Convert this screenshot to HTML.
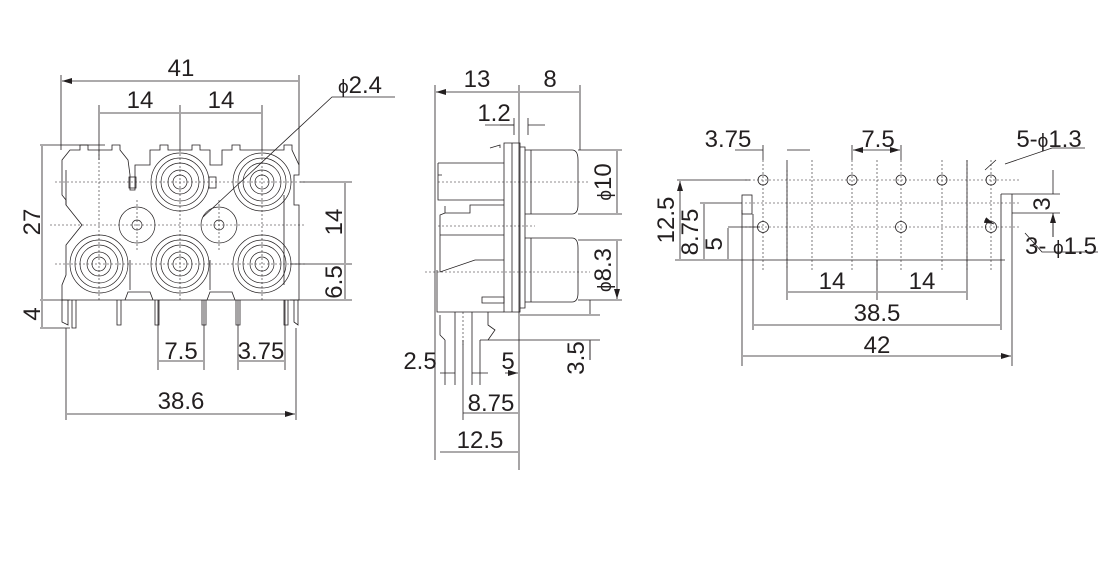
<!DOCTYPE html>
<html><head><meta charset="utf-8"><style>
html,body{margin:0;padding:0;background:#fff;}
svg{display:block}
text{font-family:"Liberation Sans",sans-serif;font-size:24px;fill:#231f20}
</style></head><body>
<svg width="1120" height="582" viewBox="0 0 1120 582" xmlns="http://www.w3.org/2000/svg">
<defs>
<marker id="a" viewBox="0 0 10 6" refX="10" refY="3" markerWidth="10" markerHeight="6" orient="auto-start-reverse" markerUnits="userSpaceOnUse"><path d="M0,0L10,3L0,6z" fill="#231f20"/></marker>
</defs>
<g stroke="#231f20" stroke-width="0.8" fill="none">
<!-- ===== FRONT VIEW ===== -->
<path d="M61,75V150M299,75V165M99,105V160M180,105V150M262,105V150M40,145H105M40,300H70M40,328H70M300,182H352M290,264H352M290,300H352M158,300V370M204,300V370M238,300V370M285,300V370M66,328V420M296,328V420"/>
<path d="M62,81H298M100,113H179M181,113H261M42,146V299M42,301V327M345,183V263M345,265V299M159,361H203M239,361H284M67,414H295" marker-start="url(#a)" marker-end="url(#a)"/>
<path d="M203,217L332,97H395"/>
<path d="M62,160L70,150H80V145H88V150H112V145H120V150L128,160L130,175V190H135V165H150V150H160V145H168V150H192V145H200V150H210V165H222V150H232V145H240V150H284V145H292V150L299,165V175H294V205H299V300H62V285L66,275V245L82,225L66,205V200L62,195Z"/>
<path d="M66,170V205M130,260V290M210,260V290M284,195V285"/>
<rect x="129" y="177" width="7" height="11"/><rect x="209" y="177" width="7" height="11"/>
<g stroke-width="0.7">
<circle cx="180" cy="182" r="29"/><circle cx="180" cy="182" r="24"/><circle cx="180" cy="182" r="19"/><circle cx="180" cy="182" r="12"/><circle cx="180" cy="182" r="7"/>
<circle cx="262" cy="182" r="29"/><circle cx="262" cy="182" r="24"/><circle cx="262" cy="182" r="19"/><circle cx="262" cy="182" r="12"/><circle cx="262" cy="182" r="7"/>
<circle cx="99" cy="264" r="29"/><circle cx="99" cy="264" r="24"/><circle cx="99" cy="264" r="19"/><circle cx="99" cy="264" r="12"/><circle cx="99" cy="264" r="7"/>
<circle cx="180" cy="264" r="29"/><circle cx="180" cy="264" r="24"/><circle cx="180" cy="264" r="19"/><circle cx="180" cy="264" r="12"/><circle cx="180" cy="264" r="7"/>
<circle cx="262" cy="264" r="29"/><circle cx="262" cy="264" r="24"/><circle cx="262" cy="264" r="19"/><circle cx="262" cy="264" r="12"/><circle cx="262" cy="264" r="7"/>
<circle cx="137" cy="225" r="18"/><circle cx="137" cy="225" r="5"/>
<circle cx="219" cy="225" r="18"/><circle cx="219" cy="225" r="5"/>
</g>
<path d="M62,300V322L68,325V300M72,300V328H76V300M117,300V325H121V300M155,300V325H159V300M202,300V325H206V300M236,300V325H240V300M284,300V325H288V300M294,300V322L298,325V300"/>
<path d="M125,300L128,292H150L153,300M207,300L210,292H232L235,300"/>
<path stroke-dasharray="2,2" stroke-width="0.6" d="M55,182H305M50,225H305M55,264H305M99,150V300M180,150V300M262,150V300M137,200V250M219,200V250"/>

<!-- ===== SIDE VIEW ===== -->
<path d="M435,85V460M519,85V470M580,85V150M514,118V135M528,118V135M445,340V385M455,340V385M472,340V385M463,340V420M480,340V385M578,150H622M578,214H622M578,240H622M578,300H622M520,315H600M480,340H600"/>
<path d="M436,92H518M520,92H579M463,413H518M440,452H518M617,151V213M617,241V299" marker-start="url(#a)" marker-end="url(#a)"/>
<path d="M500,125H514M545,125H528M590,300V314M590,360V341M440,373H455M472,373H488M505,373H518" marker-end="url(#a)"/>
<path d="M485,125H514M590,340V360"/>
<path d="M504,143H520V312H504ZM520,147H525V308H520Z"/>
<path d="M525,150H572Q578,150 578,160V205Q578,214 572,214H525M525,238H572Q578,238 578,248V293Q578,302 572,302H525"/>
<path d="M531,150V214M531,238V302M512,143V312M490,148L500,145V148"/>
<path d="M438,163H504M438,163V200H504M442,175H438V195M445,206V213H470V205H504M445,213L440,215V235H504M440,235V272L475,260H504M437,270V312H504M482,297H504V303H482Z"/>
<path d="M440,315V335L445,340M455,312V340M472,312V340M488,312V325L495,330L488,340"/>
<path stroke-dasharray="2,2" stroke-width="0.6" d="M438,182H590M438,226H535M425,272H590M463,312V345"/>

<!-- ===== PCB VIEW ===== -->
<path d="M677,180H750M700,203H742M728,227H760M675,260H1005M742,210V366M753,214V330M1012,194V366M1001,194V330M1001,194H1012M1012,194H1060M1012,213H1060M787,160V300M967,160V300M877,260V300M763,145V160M852,145V160M901,145V160M1005,164L1052,148H1085M1025,233L1042,252H1098"/>
<path d="M680,181V259M704,204V259M728,228V259M788,292H876M878,292H966M754,325H1000M743,356H1011" marker-start="url(#a)" marker-end="url(#a)"/>
<path d="M853,150H900" marker-start="url(#a)" marker-end="url(#a)"/>
<path d="M735,150H763M810,150H787M1053,170V194M1053,237V213" marker-end="url(#a)"/>
<path d="M1053,213V237"/>
<path d="M985,170L996,160M985,220L994,224" marker-end="url(#a)"/>
<rect x="742" y="195" width="10" height="19"/>
<circle cx="763" cy="180" r="5"/><circle cx="852" cy="180" r="5"/><circle cx="901" cy="180" r="5"/><circle cx="942" cy="180" r="5"/><circle cx="991" cy="180" r="5"/>
<circle cx="763" cy="227" r="5.5"/><circle cx="901" cy="227" r="5.5"/><circle cx="991" cy="227" r="5.5"/>
<path stroke-dasharray="2,2" stroke-width="0.6" d="M745,180H1020M745,203H1020M745,227H1020M763,160V270M787,170V270M812,160V270M852,160V270M877,160V270M901,160V270M942,160V270M967,160V270M991,160V270"/>
</g>

<text x="181" y="76" text-anchor="middle">41</text>
<text x="140" y="108" text-anchor="middle">14</text>
<text x="221" y="108" text-anchor="middle">14</text>
<text x="338" y="93"><tspan font-size="19">ϕ</tspan>2.4</text>
<text transform="translate(40,222) rotate(-90)" text-anchor="middle">27</text>
<text transform="translate(40,314) rotate(-90)" text-anchor="middle">4</text>
<text transform="translate(342,222) rotate(-90)" text-anchor="middle">14</text>
<text transform="translate(342,282) rotate(-90)" text-anchor="middle">6.5</text>
<text x="181" y="359" text-anchor="middle">7.5</text>
<text x="261" y="359" text-anchor="middle">3.75</text>
<text x="181" y="409" text-anchor="middle">38.6</text>

<text x="477" y="87" text-anchor="middle">13</text>
<text x="550" y="87" text-anchor="middle">8</text>
<text x="494" y="121" text-anchor="middle">1.2</text>
<text transform="translate(611,182) rotate(-90)" text-anchor="middle"><tspan font-size="19">ϕ</tspan>10</text>
<text transform="translate(611,270) rotate(-90)" text-anchor="middle"><tspan font-size="19">ϕ</tspan>8.3</text>
<text transform="translate(584,358) rotate(-90)" text-anchor="middle">3.5</text>
<text x="420" y="369" text-anchor="middle">2.5</text>
<text x="508" y="369" text-anchor="middle">5</text>
<text x="491" y="411" text-anchor="middle">8.75</text>
<text x="480" y="448" text-anchor="middle">12.5</text>

<text x="728" y="147" text-anchor="middle">3.75</text>
<text x="878" y="147" text-anchor="middle">7.5</text>
<text x="1049" y="147" text-anchor="middle">5-<tspan font-size="19">ϕ</tspan>1.3</text>
<text x="1061" y="254" text-anchor="middle">3- <tspan font-size="19">ϕ</tspan>1.5</text>
<text transform="translate(674,220) rotate(-90)" text-anchor="middle">12.5</text>
<text transform="translate(698,232) rotate(-90)" text-anchor="middle">8.75</text>
<text transform="translate(722,244) rotate(-90)" text-anchor="middle">5</text>
<text transform="translate(1050,204) rotate(-90)" text-anchor="middle">3</text>
<text x="832" y="289" text-anchor="middle">14</text>
<text x="922" y="289" text-anchor="middle">14</text>
<text x="877" y="321" text-anchor="middle">38.5</text>
<text x="877" y="353" text-anchor="middle">42</text>
</svg>
</body></html>
